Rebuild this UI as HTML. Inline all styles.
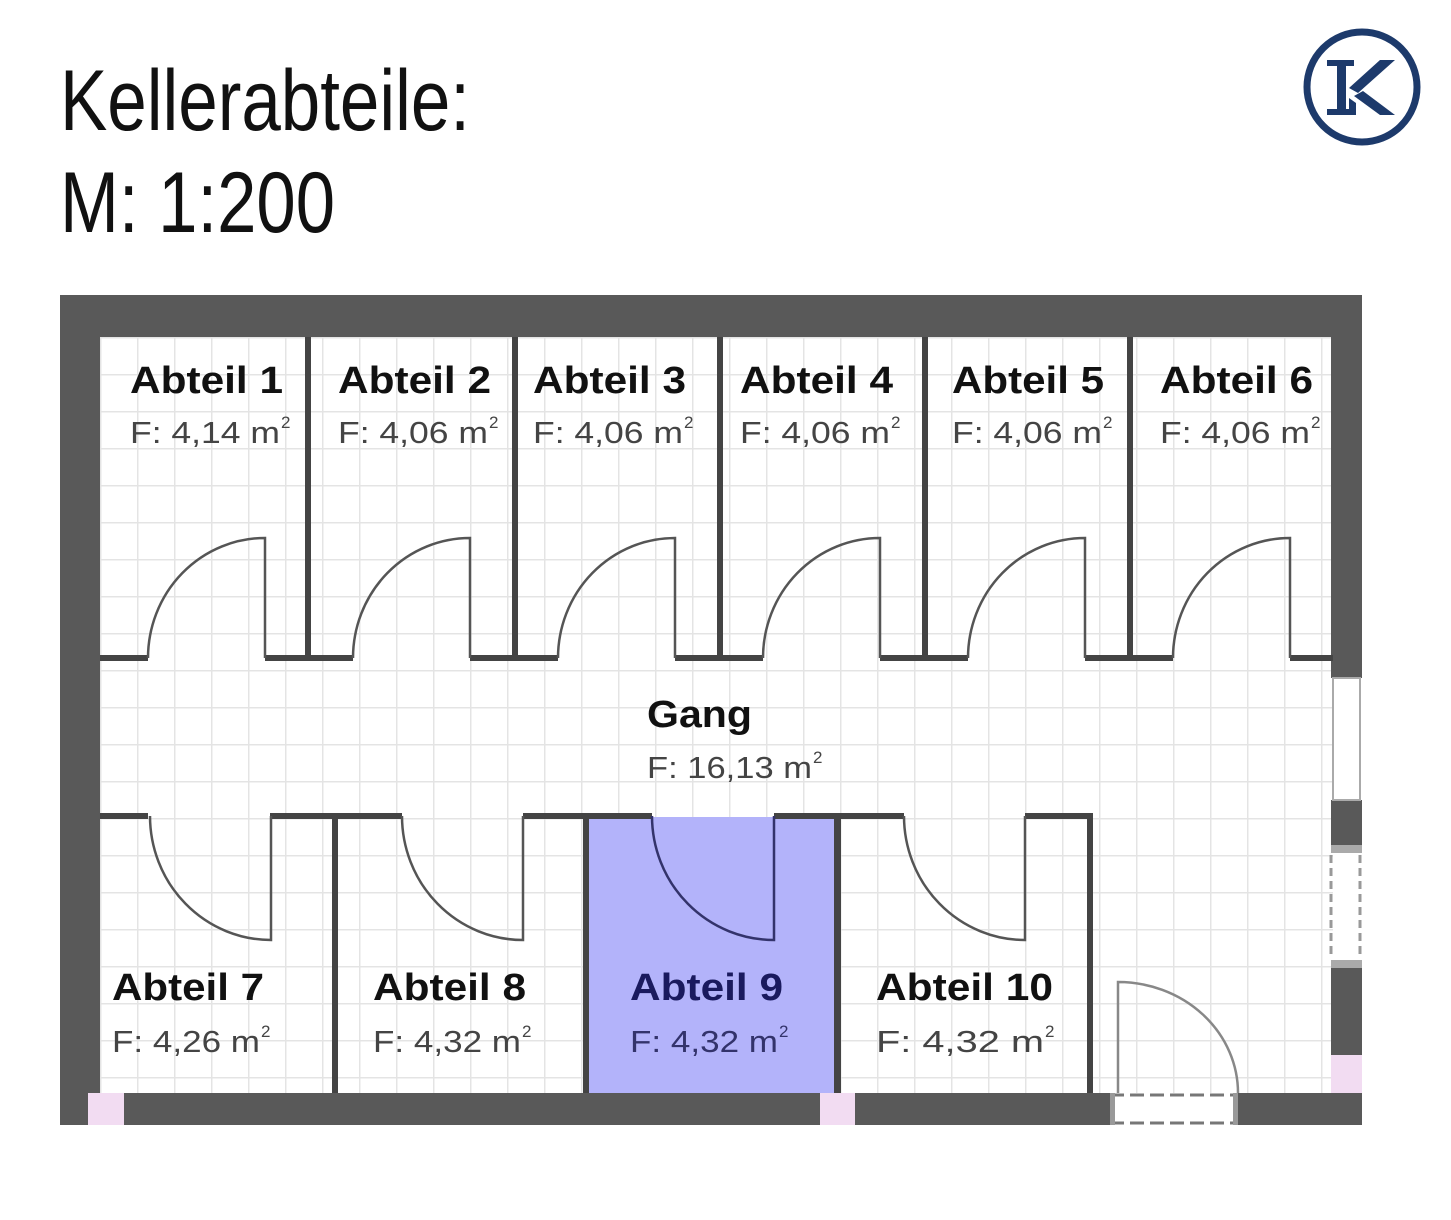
<!DOCTYPE html>
<html><head><meta charset="utf-8"><style>html,body{margin:0;padding:0;background:#fff}svg{display:block}</style></head>
<body>
<svg width="1451" height="1220" viewBox="0 0 1451 1220" xmlns="http://www.w3.org/2000/svg" font-family="Liberation Sans, Arial, sans-serif">
<defs>
<pattern id="grid" x="100" y="337" width="37" height="37" patternUnits="userSpaceOnUse">
<path d="M0 0 H37 M0 0 V37" stroke="#e4e4e4" stroke-width="3" fill="none"/>
</pattern>
</defs>
<rect width="1451" height="1220" fill="#fff"/>
<text x="60" y="130" font-size="86" textLength="410" lengthAdjust="spacingAndGlyphs" fill="#111">Kellerabteile:</text>
<text x="60" y="232" font-size="86" textLength="275" lengthAdjust="spacingAndGlyphs" fill="#111">M: 1:200</text>
<!-- logo -->
<circle cx="1362" cy="87" r="55" fill="none" stroke="#1d3a6b" stroke-width="7"/>
<g fill="#1d3a6b">
<rect x="1337" y="60" width="9" height="55"/>
<rect x="1327" y="60" width="27" height="6"/>
<rect x="1327" y="109" width="27" height="6"/>
<polygon points="1380,60 1395,60 1358,93 1349,88"/>
<polygon points="1354,96 1363,91 1395,115 1380,115"/>
<polygon points="1349,98 1356,103 1356,115 1349,115"/>
</g>
<!-- floor -->
<rect x="100" y="337" width="1233" height="756" fill="url(#grid)"/>
<rect x="588" y="817" width="248" height="276" fill="#b3b3fa"/>
<!-- outer walls -->
<g fill="#595959">
<rect x="60" y="295" width="1302" height="42"/>
<rect x="60" y="295" width="40" height="830"/>
<rect x="1331" y="295" width="31" height="383"/>
<rect x="1331" y="800" width="31" height="45"/>
<rect x="1331" y="968" width="31" height="87"/>
<rect x="60" y="1093" width="1050" height="32"/>
<rect x="1238" y="1093" width="124" height="32"/>
</g>
<rect x="1333" y="678" width="27" height="122" fill="#fff" stroke="#aaa" stroke-width="2"/>
<rect x="1331" y="845" width="31" height="8" fill="#aaa"/>
<rect x="1331" y="960" width="31" height="8" fill="#aaa"/>
<path d="M1331 855 V958 M1360 855 V958" stroke="#999" stroke-width="3" stroke-dasharray="8 5"/>
<rect x="1331" y="1055" width="31" height="38" fill="#f2dcf2"/>
<rect x="88" y="1093" width="36" height="32" fill="#f2dcf2"/>
<rect x="820" y="1093" width="35" height="32" fill="#f2dcf2"/>
<path d="M1110 1095 H1238 M1110 1123 H1238" stroke="#777" stroke-width="3" stroke-dasharray="14 6"/>
<rect x="1110" y="1093" width="5" height="32" fill="#999"/>
<rect x="1233" y="1093" width="5" height="32" fill="#999"/>
<!-- upper partition -->
<g fill="#444">
<rect x="305" y="337" width="6" height="323"/>
<rect x="512" y="337" width="6" height="323"/>
<rect x="717" y="337" width="6" height="323"/>
<rect x="922" y="337" width="6" height="323"/>
<rect x="1127" y="337" width="6" height="323"/>
<rect x="100" y="655" width="48" height="6"/>
<rect x="265" y="655" width="88" height="6"/>
<rect x="470" y="655" width="88" height="6"/>
<rect x="675" y="655" width="88" height="6"/>
<rect x="880" y="655" width="88" height="6"/>
<rect x="1085" y="655" width="88" height="6"/>
<rect x="1290" y="655" width="43" height="6"/>
<!-- lower -->
<rect x="100" y="813" width="48" height="6"/>
<rect x="270" y="813" width="132" height="6"/>
<rect x="332" y="813" width="6" height="280"/>
<rect x="523" y="813" width="129" height="6"/>
<rect x="583" y="813" width="6" height="280"/>
<rect x="774" y="813" width="130" height="6"/>
<rect x="834" y="813" width="7" height="280"/>
<rect x="1025" y="813" width="68" height="6"/>
<rect x="1087" y="813" width="6" height="280"/>
</g>
<!-- doors -->
<g fill="none" stroke="#555" stroke-width="2.5">
<path d="M148 658 A117 120 0 0 1 265 538 V658"/>
<path d="M353 658 A117 120 0 0 1 470 538 V658"/>
<path d="M558 658 A117 120 0 0 1 675 538 V658"/>
<path d="M763 658 A117 120 0 0 1 880 538 V658"/>
<path d="M968 658 A117 120 0 0 1 1085 538 V658"/>
<path d="M1173 658 A117 120 0 0 1 1290 538 V658"/>
<path d="M150 816 A121 124 0 0 0 271 940 V816"/>
<path d="M402 816 A121 124 0 0 0 523 940 V816"/>
<path d="M652 816 A122 124 0 0 0 774 940 V816" stroke="#33336b"/>
<path d="M904 816 A121 124 0 0 0 1025 940 V816"/>
<path d="M1118 1093 V982 A120 111 0 0 1 1238 1093" stroke="#888"/>
</g>
<!-- labels -->
<g font-weight="bold" font-size="38" fill="#111">
<text x="130" y="393" textLength="153" lengthAdjust="spacingAndGlyphs">Abteil 1</text>
<text x="338" y="393" textLength="153" lengthAdjust="spacingAndGlyphs">Abteil 2</text>
<text x="533" y="393" textLength="153" lengthAdjust="spacingAndGlyphs">Abteil 3</text>
<text x="740" y="393" textLength="153" lengthAdjust="spacingAndGlyphs">Abteil 4</text>
<text x="952" y="393" textLength="152" lengthAdjust="spacingAndGlyphs">Abteil 5</text>
<text x="1160" y="393" textLength="153" lengthAdjust="spacingAndGlyphs">Abteil 6</text>
<text x="647" y="727" textLength="105" lengthAdjust="spacingAndGlyphs">Gang</text>
<text x="112" y="1000" textLength="152" lengthAdjust="spacingAndGlyphs">Abteil 7</text>
<text x="373" y="1000" textLength="153" lengthAdjust="spacingAndGlyphs">Abteil 8</text>
<text x="630" y="1000" textLength="153" lengthAdjust="spacingAndGlyphs" fill="#1a1a5e">Abteil 9</text>
<text x="876" y="1000" textLength="177" lengthAdjust="spacingAndGlyphs">Abteil 10</text>
</g>
<g font-size="31" fill="#444">
<text x="130" y="443" textLength="150" lengthAdjust="spacingAndGlyphs">F: 4,14 m</text>
<text x="338" y="443" textLength="150" lengthAdjust="spacingAndGlyphs">F: 4,06 m</text>
<text x="533" y="443" textLength="150" lengthAdjust="spacingAndGlyphs">F: 4,06 m</text>
<text x="740" y="443" textLength="150" lengthAdjust="spacingAndGlyphs">F: 4,06 m</text>
<text x="952" y="443" textLength="150" lengthAdjust="spacingAndGlyphs">F: 4,06 m</text>
<text x="1160" y="443" textLength="150" lengthAdjust="spacingAndGlyphs">F: 4,06 m</text>
<text x="647" y="778" textLength="165" lengthAdjust="spacingAndGlyphs">F: 16,13 m</text>
<text x="112" y="1052" textLength="148" lengthAdjust="spacingAndGlyphs">F: 4,26 m</text>
<text x="373" y="1052" textLength="148" lengthAdjust="spacingAndGlyphs">F: 4,32 m</text>
<text x="630" y="1052" textLength="148" lengthAdjust="spacingAndGlyphs" fill="#33336b">F: 4,32 m</text>
<text x="876" y="1052" textLength="168" lengthAdjust="spacingAndGlyphs">F:   4,32 m</text>
</g>
<g font-size="17" fill="#444">
<text x="281" y="428">2</text><text x="489" y="428">2</text><text x="684" y="428">2</text>
<text x="891" y="428">2</text><text x="1103" y="428">2</text><text x="1311" y="428">2</text>
<text x="813" y="763">2</text><text x="261" y="1037">2</text><text x="522" y="1037">2</text>
<text x="779" y="1037" fill="#33336b">2</text><text x="1045" y="1037">2</text>
</g>
</svg>
</body></html>
